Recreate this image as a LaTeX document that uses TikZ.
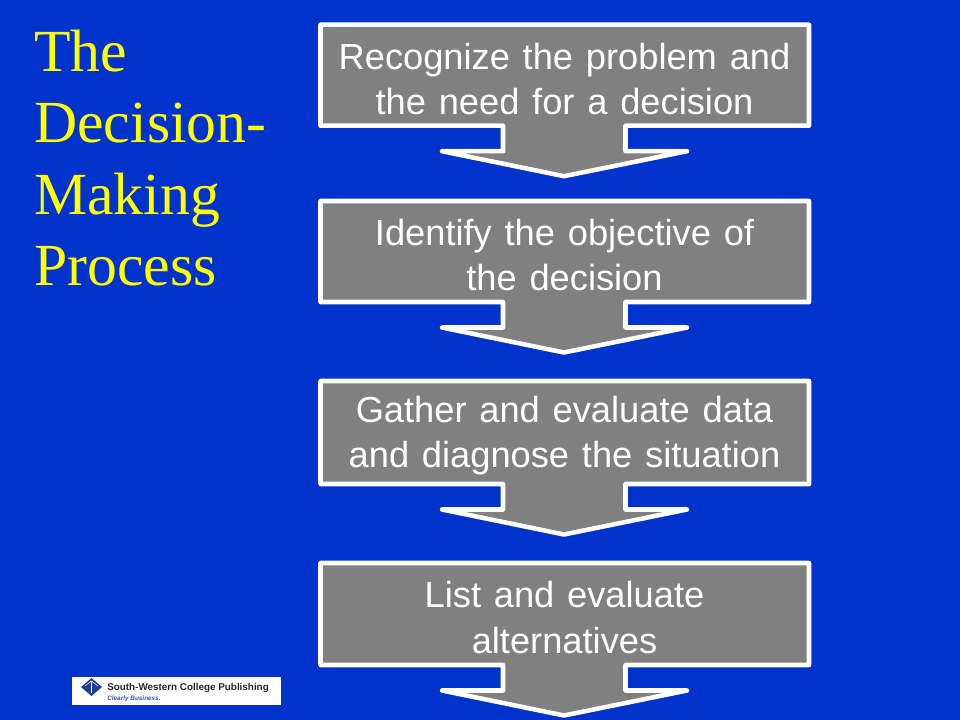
\documentclass[tikz,border=0pt]{standalone}
\usepackage{fontspec}
\setmainfont{Liberation Sans}
\newfontfamily\titlefont{Liberation Serif}
\newfontfamily\boxfont[WordSpace=1.27]{Liberation Sans}
\usetikzlibrary{calc}
\definecolor{bluebg}{RGB}{0,51,204}
\definecolor{boxgray}{RGB}{128,128,128}
\definecolor{titleyellow}{RGB}{255,255,0}
\definecolor{swblue}{RGB}{30,60,150}
\definecolor{swtag}{RGB}{60,90,170}
\tikzset{
  x=0.75pt,y=-0.75pt,
  flowshape/.style={draw=white,fill=boxgray,line width=3.4pt,line join=round},
  boxtext/.style={text=white,align=center,inner sep=0pt,font=\boxfont\fontsize{27.2}{33.9}\selectfont},
  titletext/.style={text=titleyellow,align=left,anchor=north west,inner sep=0pt,font=\titlefont\fontsize{44.8}{53.4}\selectfont},
  logotext/.style={anchor=base west,inner sep=0pt}
}
\newcommand{\flowbox}[2]{% top y, bottom y
  \path[flowshape] (320.5,#1) -- (809,#1) -- (809,#2) -- (625.5,#2) -- (625.5,#2+25.5) -- (687,#2+25.5)
    -- (564,#2+50.5) -- (442,#2+25.5) -- (503,#2+25.5) -- (503,#2) -- (320.5,#2) -- cycle;
}
\begin{document}
\begin{tikzpicture}
\useasboundingbox (0,0) rectangle (960,720);
\fill[bluebg] (0,0) rectangle (960,720);
\node[titletext] (title) at (34,30) {The\\Decision-\\Making\\Process};
\flowbox{24.7}{125.7}
\flowbox{201}{302}
\flowbox{381}{484}
\flowbox{563}{665}
\node[boxtext] (s1) at (564.5,79) {Recognize the problem and\\the need for a decision};
\node[boxtext] (s2) at (564.5,255) {Identify the objective of\\the decision};
\node[boxtext] (s3) at (564.5,435.5) {Gather and evaluate data\\and diagnose the situation};
\node[boxtext] (s4) at (564.5,617.5) {List and evaluate\\alternatives};
\fill[white] (72,677) rectangle (281,705);
\fill[swblue] (81,687) -- (91.5,678) -- (102,687) -- (91.5,696) -- cycle;
\draw[white,line width=0.4pt] (85,686) -- (91.5,681) -- (98,686) (91.5,681) -- (91.5,693);
\node[logotext,font=\bfseries\fontsize{7.4}{8}\selectfont,text=black!85] (logo) at (107,690) {South-Western College Publishing};
\node[logotext,font=\bfseries\itshape\fontsize{4.8}{5}\selectfont,text=swtag] (tag) at (107,700) {Clearly Business.};
\end{tikzpicture}
\end{document}
